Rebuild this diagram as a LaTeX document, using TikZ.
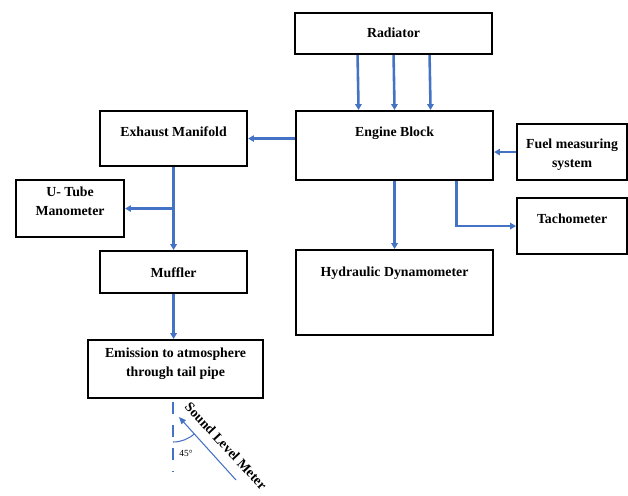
\documentclass[tikz,border=0pt]{standalone}
\usepackage{fontspec}
\setmainfont{Liberation Serif}
\usetikzlibrary{arrows.meta}
\definecolor{flowblue}{RGB}{68,114,196}

\begin{document}
\begin{tikzpicture}[
    x=0.03cm, y=-0.03cm,
    >={Triangle[length=5pt,width=5.5pt]},
    block/.style={draw, line width=1.8pt, inner sep=0pt, anchor=north west,
        align=center, font=\bfseries\fontsize{11.8}{16}\selectfont},
    flow/.style={->, draw=flowblue, line width=2.2pt}
]
\useasboundingbox (0,0) rectangle (628,495);

\node[block, minimum width=5.91cm, text height=0.72cm, text depth=0.51cm] (rad) at (294,12) {Radiator};
\node[block, minimum width=5.91cm, text height=0.75cm, text depth=1.32cm] (eng) at (295,110) {Engine Block};
\node[block, minimum width=4.41cm, text height=0.75cm, text depth=0.90cm] (exh) at (99,110) {Exhaust Manifold};
\node[block, minimum width=3.30cm, text height=1.29cm, text depth=0.39cm] (fuel) at (516,123) {Fuel measuring\\system};
\node[block, minimum width=3.30cm, text height=0.75cm, text depth=0.93cm] (tach) at (516,197) {Tachometer};
\node[block, minimum width=3.24cm, text height=1.05cm, text depth=0.66cm] (mano) at (15,179) {U- Tube\\Manometer};
\node[block, minimum width=4.41cm, text height=0.78cm, text depth=0.48cm] (muf) at (99,250) {Muffler};
\node[block, minimum width=5.91cm, text height=0.78cm, text depth=1.77cm] (dyn) at (295,249) {Hydraulic Dynamometer};
\node[block, minimum width=5.25cm, text height=1.08cm, text depth=0.66cm] (emi) at (87,339) {Emission to atmosphere\\through tail pipe};

% coolant lines
\foreach \dx in {-1.08cm,0cm,1.08cm}
    \draw[flow] ([xshift=\dx]rad.south) -- ([xshift=\dx]eng.north);

\draw[flow] (eng.west |- exh.east) -- (exh.east);
\draw[flow] (fuel.west) -- (fuel.west -| eng.east);
\draw[flow] ([xshift=1.85cm]eng.south) |- (tach.west);
\draw[flow] (eng.south) -- (dyn.north);
\draw[flow] (exh.south) -- (muf.north);
\draw[flow] (exh.south |- mano.east) -- (mano.east);
\draw[flow] (muf.south) -- (muf.south |- emi.north);

% sound level meter at 45 deg
\coordinate (dtop) at (173,402);
\coordinate (dend) at (173,472);
\coordinate (vtx) at (173,410);
\coordinate (mtail) at (236,480);
\coordinate (mtip) at (179,417);
\draw[flowblue, line width=2.2pt, dash pattern=on 0.36cm off 0.33cm] (dtop) -- (dend);
\draw[flowblue, line width=0.9pt, -{Triangle[length=6pt,width=5pt]}] (mtail) -- (mtip);
\draw[flowblue, line width=0.9pt] (vtx) ++(0,32) arc[start angle=-90, end angle=-48, radius=0.96cm];
\node[font=\fontsize{8}{9}\selectfont, inner sep=1pt] (ang) at (186,453) {45°};
\node[font=\bfseries\fontsize{11.8}{13}\selectfont, rotate=-47] (slm) at (226,446) {Sound Level Meter};

\end{tikzpicture}
\end{document}
